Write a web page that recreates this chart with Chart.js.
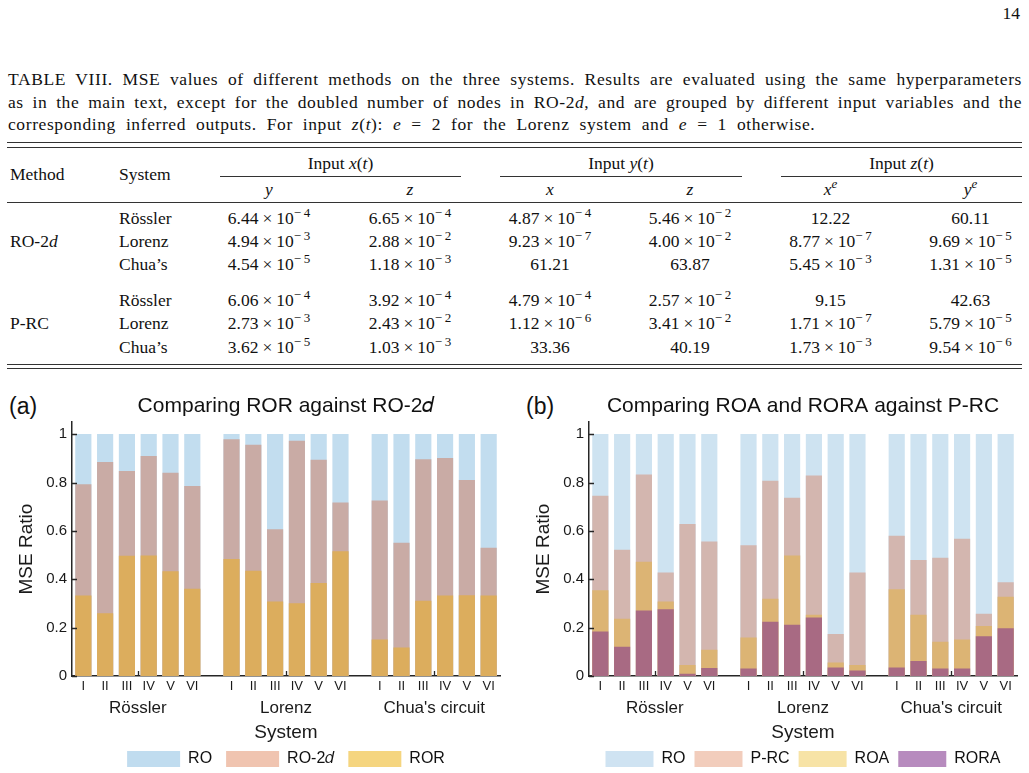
<!DOCTYPE html>
<html>
<head>
<meta charset="utf-8">
<script src="https://cdn.jsdelivr.net/npm/chart.js@4.4.1/dist/chart.umd.min.js"></script>
<style>
  body { margin: 0; width: 1029px; height: 773px; overflow: hidden; background: #fff; }
  #page { position: relative; width: 1029px; height: 773px; overflow: hidden;
          font-family: 'Liberation Serif', 'Times New Roman', serif; color: #111; }
  .t { position: absolute; white-space: nowrap; font-size: 17.5px; line-height: 21px; }
  .cap { position: absolute; left: 8px; width: 1014px; font-size: 17.5px; line-height: 22px;
         letter-spacing: 0.6px; word-spacing: 5px; text-align: left; white-space: nowrap; }
  .cap.full { word-spacing: 0; white-space: normal; text-align: justify; text-align-last: justify; }
  .rule { position: absolute; height: 1.3px; background: #333; }
  sup { font-size: 13px; vertical-align: 7px; line-height: 0; }
  .times { margin: 0 4px; }
  .mn { display: inline-block; width: 10px; text-align: left; }
  .tag { position: absolute; font-family: 'Liberation Sans', Arial, sans-serif; font-size: 23px; color: #111; }
  canvas { position: absolute; }
</style>
</head>
<body>
<div id="page">
  <div class="t" style="right:9px; top:3px;">14</div>
  <div class="cap full" style="top:68px;">TABLE VIII. MSE values of different methods on the three systems. Results are evaluated using the same hyperparameters</div>
  <div class="cap full" style="top:90.5px;">as in the main text, except for the doubled number of nodes in RO-2<i>d</i>, and are grouped by different input variables and the</div>
  <div class="cap" style="top:113px;">corresponding inferred outputs. For input <i>z</i>(<i>t</i>): <i>e</i> = 2 for the Lorenz system and <i>e</i> = 1 otherwise.</div>

  <div class="tag" style="left:9px; top:393px;">(a)</div>
  <div class="tag" style="left:526px; top:393px;">(b)</div>
  <canvas id="chartA" width="515" height="390" style="left:0; top:390px;"></canvas>
  <canvas id="chartB" width="512" height="390" style="left:517px; top:390px;"></canvas>
</div>

<script>
// ---- table VIII ----
const tableGroups = ['Input <i>x</i>(<i>t</i>)', 'Input <i>y</i>(<i>t</i>)', 'Input <i>z</i>(<i>t</i>)'];
const tableCols = ['<i>y</i>', '<i>z</i>', '<i>x</i>', '<i>z</i>', '<i>x</i><sup><i>e</i></sup>', '<i>y</i><sup><i>e</i></sup>'];
const tableSystems = ['Rössler', 'Lorenz', 'Chua’s'];
const mseRO2d = [
  ['6.44e-4', '6.65e-4', '4.87e-4', '5.46e-2', '12.22', '60.11'],
  ['4.94e-3', '2.88e-2', '9.23e-7', '4.00e-2', '8.77e-7', '9.69e-5'],
  ['4.54e-5', '1.18e-3', '61.21', '63.87', '5.45e-3', '1.31e-5']
];
const msePRC = [
  ['6.06e-4', '3.92e-4', '4.79e-4', '2.57e-2', '9.15', '42.63'],
  ['2.73e-3', '2.43e-2', '1.12e-6', '3.41e-2', '1.71e-7', '5.79e-5'],
  ['3.62e-5', '1.03e-3', '33.36', '40.19', '1.73e-3', '9.54e-6']
];

// ---- chart data ----
const systems = ['Rössler', 'Lorenz', "Chua's circuit"];
const inputs = ['I', 'II', 'III', 'IV', 'V', 'VI'];
const yTicks = [0, 0.2, 0.4, 0.6, 0.8, 1];

// (a) MSE ratio, ROR against RO-2d
const roA   = [1, 1, 1, 1, 1, 1,  1, 1, 1, 1, 1, 1,  1, 1, 1, 1, 1, 1];
const ro2dA = [0.792, 0.884, 0.847, 0.909, 0.839, 0.785,  0.978, 0.955, 0.606, 0.972, 0.893, 0.716,  0.725, 0.550, 0.895, 0.901, 0.810, 0.529];
const rorA  = [0.332, 0.258, 0.496, 0.497, 0.432, 0.360,  0.483, 0.434, 0.307, 0.300, 0.383, 0.515,  0.150, 0.117, 0.310, 0.332, 0.333, 0.332];

// (b) MSE ratio, ROA and RORA against P-RC
const roB   = [1, 1, 1, 1, 1, 1,  1, 1, 1, 1, 1, 1,  1, 1, 1, 1, 1, 1];
const prcB  = [0.744, 0.521, 0.832, 0.427, 0.627, 0.555,  0.540, 0.806, 0.736, 0.828, 0.172, 0.427,  0.579, 0.479, 0.488, 0.566, 0.256, 0.386];
const roaB  = [0.353, 0.236, 0.471, 0.307, 0.044, 0.107,  0.158, 0.318, 0.497, 0.252, 0.055, 0.044,  0.358, 0.252, 0.140, 0.150, 0.205, 0.326];
const roraB = [0.183, 0.120, 0.270, 0.275, 0.008, 0.032,  0.030, 0.223, 0.211, 0.241, 0.034, 0.021,  0.034, 0.061, 0.030, 0.030, 0.163, 0.196];

// ---- build table ----
const page = document.getElementById('page');
const colX = [269, 410, 550, 690, 830.5, 970.5];
const groupSpan = [[220, 461], [500, 742], [781, 1022]];

function put(html, x, y, align) {
  const d = document.createElement('div');
  d.className = 't';
  d.innerHTML = html;
  d.style.left = x + 'px';
  d.style.top = y + 'px';
  d.style.transform = align === 'center' ? 'translate(-50%,-50%)' : 'translate(0,-50%)';
  page.appendChild(d);
}
function rule(x1, x2, y) {
  const d = document.createElement('div');
  d.className = 'rule';
  d.style.left = x1 + 'px';
  d.style.width = (x2 - x1) + 'px';
  d.style.top = y + 'px';
  page.appendChild(d);
}
function fmt(s) {
  if (!s.includes('e')) return s;
  const [m, e] = s.split('e');
  return m + '<span class="times">×</span>10<sup><span class="mn">−</span>' + e.replace('-', '') + '</sup>';
}

rule(7, 1022, 142); rule(7, 1022, 146.5);
put('Method', 10, 174);
put('System', 119, 174);
tableGroups.forEach((g, k) => {
  put(g, (groupSpan[k][0] + groupSpan[k][1]) / 2, 163, 'center');
  rule(groupSpan[k][0], groupSpan[k][1], 175.5);
});
tableCols.forEach((c, k) => put(c, colX[k], 189, 'center'));
rule(7, 1022, 202);

[[mseRO2d, 'RO-2<i>d</i>', [217.5, 241, 264]], [msePRC, 'P-RC', [300, 323, 346.5]]].forEach(([rows, name, ys]) => {
  put(name, 10, ys[1]);
  rows.forEach((r, i) => {
    put(tableSystems[i], 119, ys[i]);
    r.forEach((v, k) => put(fmt(v), colX[k], ys[i], 'center'));
  });
});
rule(7, 1022, 363.5); rule(7, 1022, 368);

// ---- charts ----
Chart.defaults.font.family = "'Liberation Sans', Arial, sans-serif";
Chart.defaults.color = '#1a1a1a';

const axisColor = '#262626';
const groupGap = 6.8;
const barPos = [];
systems.forEach((s, g) => inputs.forEach((r, i) => barPos.push(g * groupGap + i)));
const groupPos = systems.map((s, g) => g * groupGap + 2.5);
const xMin = -0.52, xMax = 2 * groupGap + 5 + 0.52;

// MATLAB-style inward tick marks
const innerTicks = {
  id: 'innerTicks',
  afterDraw(chart) {
    const {ctx, chartArea: a, scales} = chart;
    ctx.save();
    ctx.strokeStyle = axisColor;
    ctx.lineWidth = 1.3;
    ctx.beginPath();
    yTicks.forEach(v => {
      const y = Math.round(scales.y.getPixelForValue(v)) + 0.5;
      ctx.moveTo(a.left, y); ctx.lineTo(a.left + 5, y);
    });
    groupPos.forEach(v => {
      const x = Math.round(scales.x.getPixelForValue(v)) + 0.5;
      ctx.moveTo(x, a.bottom); ctx.lineTo(x, a.bottom - 5);
    });
    ctx.stroke();
    ctx.restore();
  }
};

function panel(id, title, names, values, barColors, boxColors, legendBox, legendPad, padRight) {
  // a tighter legend is shorter; give the slack to the group-label axis
  const slack = 14 - legendPad;
  new Chart(document.getElementById(id), {
    type: 'bar',
    data: {
      datasets: names.map((name, k) => ({
        label: name,
        data: values[k].map((v, i) => ({x: barPos[i], y: v})),
        backgroundColor: barColors[k],
        order: names.length - k,
        grouped: false,
        barThickness: 15.5
      }))
    },
    options: {
      responsive: false,
      animation: false,
      layout: {padding: {left: 12, right: padRight, top: 0, bottom: 3}},
      plugins: {
        tooltip: {enabled: false},
        title: {
          display: true, text: title, fullSize: false, color: '#111',
          font: {size: 21, weight: 'normal'}, padding: {top: 4, bottom: 3}
        },
        legend: {
          position: 'bottom', fullSize: false,
          labels: {
            boxWidth: legendBox, boxHeight: 16, padding: legendPad, color: '#111', font: {size: 16},
            sort: (a, b) => a.datasetIndex - b.datasetIndex,
            generateLabels(chart) {
              const items = Chart.defaults.plugins.legend.labels.generateLabels(chart);
              items.forEach(it => {
                it.fillStyle = boxColors[it.datasetIndex];
                it.strokeStyle = 'rgba(0,0,0,0)';
                it.lineWidth = 0;
              });
              return items;
            }
          }
        }
      },
      scales: {
        x: {
          type: 'linear', min: xMin, max: xMax, offset: false, weight: 0,
          grid: {display: false, drawTicks: false},
          border: {color: axisColor, width: 1.5},
          afterBuildTicks: s => { s.ticks = barPos.map(v => ({value: v})); },
          afterFit: s => { s.height = 20; },
          ticks: {autoSkip: false, maxRotation: 0, padding: 3, font: {size: 13},
                  callback: (v, i) => inputs[i % inputs.length]}
        },
        xg: {
          type: 'linear', position: 'bottom', min: xMin, max: xMax, offset: false, weight: 1,
          grid: {display: false, drawTicks: false},
          border: {display: false},
          afterBuildTicks: s => { s.ticks = groupPos.map(v => ({value: v})); },
          afterFit: s => { s.height = 41 + slack; },
          ticks: {autoSkip: false, maxRotation: 0, padding: 2, font: {size: 17},
                  callback: (v, i) => systems[i]},
          title: {display: true, text: 'System', font: {size: 19}, padding: {top: 0, bottom: -7 + slack}}
        },
        y: {
          min: 0, max: 1.05,
          grid: {display: false, drawTicks: false},
          border: {color: axisColor, width: 1.5},
          afterBuildTicks: s => { s.ticks = yTicks.map(v => ({value: v})); },
          afterFit: s => { s.width = 60; },
          ticks: {padding: 5, font: {size: 15}, callback: v => String(Number(v.toFixed(1)))},
          title: {display: true, text: 'MSE Ratio', font: {size: 19}, padding: {top: 3, bottom: 0}}
        }
      }
    },
    plugins: [innerTicks]
  });
}

panel('chartA', 'Comparing ROR against RO-2𝑑',
  ['RO', 'RO-2𝑑', 'ROR'], [roA, ro2dA, rorA],
  ['#c2ddef', '#c9aba5', '#dcad5d'],
  ['#c0dcef', '#f0c4b0', '#f5d57f'], 53, 14, 15);

panel('chartB', 'Comparing ROA and RORA against P-RC',
  ['RO', 'P-RC', 'ROA', 'RORA'], [roB, prcB, roaB, roraB],
  ['#cee3f1', '#d3b6af', '#dcb474', '#a86a83'],
  ['#cfe3f2', '#f2cdbc', '#f7e3a6', '#b78bbe'], 48, 9, 12);
</script>
</body>
</html>
